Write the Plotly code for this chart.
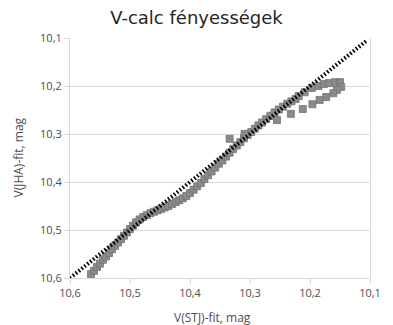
import plotly.graph_objects as go

# V(STJ)-fit vs V(JHA)-fit magnitudes
v_stj = [10.565, 10.560, 10.555, 10.550, 10.545, 10.540, 10.535, 10.530, 10.525, 10.520,
         10.515, 10.510, 10.505, 10.500, 10.495, 10.490, 10.484, 10.478, 10.472, 10.466,
         10.460, 10.454, 10.448, 10.442, 10.436, 10.430, 10.424, 10.418, 10.412, 10.406,
         10.400, 10.394, 10.388, 10.382, 10.376, 10.370, 10.364, 10.358, 10.352, 10.346,
         10.340, 10.334, 10.328, 10.322, 10.316, 10.310, 10.304, 10.298, 10.292, 10.286,
         10.280, 10.273, 10.266, 10.259, 10.252, 10.245, 10.238, 10.231, 10.224, 10.219,
         10.209, 10.197, 10.186, 10.177, 10.168, 10.158, 10.150,
         10.148, 10.155, 10.161, 10.173, 10.184, 10.196, 10.212, 10.232, 10.255,
         10.309, 10.334]
v_jha = [10.592, 10.585, 10.577, 10.570, 10.562, 10.555, 10.548, 10.540, 10.533, 10.526,
         10.519, 10.512, 10.505, 10.498, 10.491, 10.484, 10.478, 10.473, 10.469, 10.465,
         10.462, 10.459, 10.456, 10.453, 10.450, 10.446, 10.442, 10.438, 10.434, 10.429,
         10.423, 10.416, 10.409, 10.402, 10.394, 10.386, 10.378, 10.370, 10.362, 10.355,
         10.347, 10.339, 10.331, 10.324, 10.317, 10.309, 10.302, 10.296, 10.289, 10.282,
         10.276, 10.269, 10.262, 10.255, 10.249, 10.243, 10.237, 10.232, 10.227, 10.221,
         10.213, 10.204, 10.200, 10.196, 10.194, 10.192, 10.192,
         10.202, 10.208, 10.215, 10.223, 10.229, 10.238, 10.248, 10.258, 10.271,
         10.300, 10.310]

# identity reference line
diag_x = [10.6, 10.105]
diag_y = [10.6, 10.105]

tick_vals = [10.1, 10.2, 10.3, 10.4, 10.5, 10.6]

label_col = "#4d4d4d"
grid_col = "#d9d9d9"
font_fam = "Open Sans, DejaVu Sans, sans-serif"

fig = go.Figure()
fig.add_trace(go.Scatter(
    x=v_stj, y=v_jha, mode="markers",
    marker=dict(symbol="square", size=7, color="#8a8a8a",
                line=dict(color="#737373", width=0.8)),
    showlegend=False, hoverinfo="skip"))
fig.add_trace(go.Scatter(
    x=diag_x, y=diag_y, mode="lines",
    line=dict(color="black", width=4, dash="1.6px,2.1px"),
    showlegend=False, hoverinfo="skip"))

fig.update_layout(
    width=393, height=325,
    margin=dict(l=70, r=19, t=38, b=47),
    paper_bgcolor="white", plot_bgcolor="white",
    separators=", ",
    font=dict(family=font_fam, color=label_col, size=11),
    title=dict(text="V-calc fényességek", x=0.5, xanchor="center",
               y=1 - 18 / 325, yanchor="middle",
               font=dict(size=18, color="#262626",
                         family="DejaVu Sans, Open Sans, sans-serif")),
    annotations=[
        dict(text="V(STJ)-fit, mag", xref="paper", yref="paper",
             x=0.475, y=-0.165, xanchor="center", yanchor="middle",
             showarrow=False, font=dict(size=12, color=label_col)),
        dict(text="V(JHA)-fit, mag", xref="paper", yref="paper",
             x=-0.175, y=0.5, xanchor="center", yanchor="middle",
             textangle=-90, showarrow=False,
             font=dict(size=12, color=label_col)),
    ],
)
fig.update_xaxes(
    range=[10.6, 10.1], tickvals=tick_vals, tickformat=".1f",
    showgrid=False, zeroline=False,
    showline=True, linecolor=grid_col, linewidth=1,
    ticks="outside", ticklen=5, tickcolor=grid_col,
    tickfont=dict(size=11, color=label_col))
fig.update_yaxes(
    range=[10.6, 10.1], tickvals=tick_vals, tickformat=".1f",
    showgrid=True, gridcolor=grid_col, gridwidth=1, zeroline=False,
    showline=True, linecolor=grid_col, linewidth=1, mirror=True,
    ticks="outside", ticklen=5, tickcolor=grid_col,
    tickfont=dict(size=11, color=label_col))

fig.write_html("out.html")
